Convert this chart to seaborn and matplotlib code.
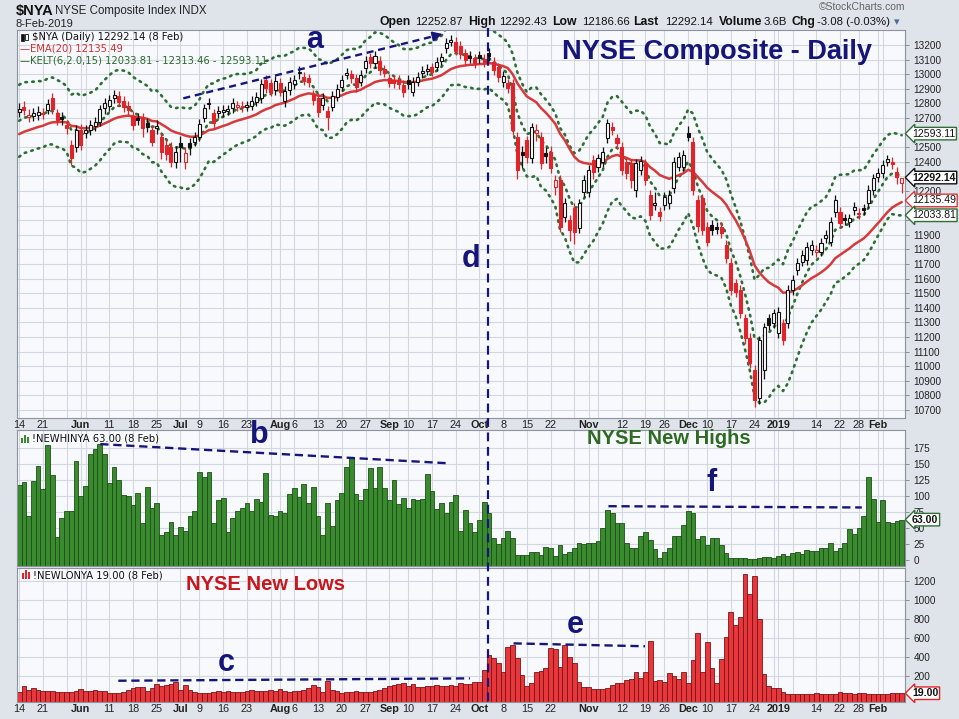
import numpy as np
import pandas as pd
import matplotlib
matplotlib.use("Agg")
import matplotlib.pyplot as plt
from matplotlib.lines import Line2D
from matplotlib.patches import Rectangle
import seaborn as sns

# ---------------------------------------------------------------- data
HOLIDAYS = ["2018-05-28", "2018-07-04", "2018-09-03", "2018-11-22",
            "2018-12-05", "2018-12-25", "2019-01-01", "2019-01-21"]

OPEN = [12743, 12778, 12705, 12714, 12721, 12732, 12755, 12835, 12732, 12705,
        12652, 12515, 12504, 12618, 12595, 12618, 12645, 12675, 12766, 12782,
        12835, 12851, 12819, 12782, 12714, 12698, 12705, 12663, 12618, 12629,
        12572, 12515, 12504, 12401, 12527, 12401, 12527, 12538, 12572, 12698,
        12796, 12732, 12732, 12743, 12750, 12766, 12778, 12773, 12778, 12782,
        12812, 12835, 12960, 12937, 12892, 12942, 12819, 12892, 12933, 13006,
        12983, 12972, 12858, 12835, 12789, 12748, 12778, 12846, 12915, 12995,
        12999, 12972, 12949, 13040, 13116, 13074, 13093, 13033, 12972, 12960,
        12960, 12926, 12960, 12880, 12949, 13006, 13024, 13047, 13052, 13093,
        13177, 13223, 13223, 13193, 13143, 13125, 13109, 13129, 13106, 13143,
        13086, 13047, 12949, 12937, 12937, 12572, 12470, 12549, 12424, 12600,
        12572, 12463, 12470, 12230, 12275, 12024, 12001, 12081, 11944, 12195,
        12195, 12412, 12367, 12401, 12561, 12641, 12561, 12504, 12401, 12390,
        12207, 12344, 12390, 12173, 12104, 12058, 12104, 12116, 12218, 12367,
        12367, 12595, 12538, 12138, 12150, 11956, 11967, 11956, 11956, 11830,
        11705, 11568, 11522, 11328, 11191, 10974, 10780, 10974, 11328, 11294,
        11225, 11294, 11294, 11522, 11659, 11716, 11727, 11796, 11785, 11785,
        11876, 11853, 12058, 12058, 12013, 11990, 12070, 12043, 12081, 12116,
        12207, 12298, 12321, 12401, 12401, 12332, 12252.87]

HIGH = [12805, 12815, 12760, 12768, 12780, 12772, 12832, 12870, 12765, 12740,
        12688, 12550, 12650, 12660, 12655, 12688, 12710, 12790, 12835, 12860,
        12895, 12882, 12850, 12815, 12745, 12732, 12735, 12700, 12650, 12685,
        12605, 12550, 12535, 12510, 12580, 12500, 12560, 12605, 12690, 12795,
        12840, 12765, 12785, 12788, 12792, 12838, 12820, 12815, 12820, 12850,
        12878, 12965, 12992, 12970, 12988, 12975, 12920, 12980, 12995, 13055,
        13015, 13005, 12890, 12868, 12868, 12780, 12882, 12930, 12992, 13045,
        13030, 13005, 13028, 13125, 13148, 13160, 13125, 13065, 13005, 12992,
        12992, 12958, 12992, 12980, 13015, 13056, 13070, 13078, 13116, 13148,
        13248, 13268, 13255, 13225, 13175, 13158, 13140, 13162, 13138, 13180,
        13118, 13080, 13020, 12970, 12970, 12605, 12510, 12580, 12668, 12660,
        12605, 12500, 12505, 12310, 12308, 12150, 12035, 12115, 12148, 12310,
        12375, 12445, 12455, 12502, 12695, 12675, 12592, 12535, 12432, 12422,
        12422, 12440, 12422, 12205, 12190, 12088, 12192, 12205, 12432, 12467,
        12480, 12645, 12570, 12170, 12182, 11988, 12000, 11990, 11988, 11862,
        11738, 11600, 11555, 11360, 11225, 11010, 11210, 11295, 11360, 11395,
        11405, 11325, 11555, 11625, 11738, 11795, 11850, 11862, 11828, 11875,
        11930, 12022, 12170, 12090, 12045, 12045, 12125, 12085, 12112, 12238,
        12318, 12355, 12410, 12450, 12432, 12365, 12292.43]

LOW = [12705, 12720, 12670, 12680, 12688, 12690, 12725, 12730, 12650, 12652,
       12590, 12375, 12470, 12480, 12560, 12585, 12610, 12645, 12730, 12750,
       12805, 12780, 12740, 12720, 12620, 12650, 12570, 12605, 12505, 12590,
       12420, 12415, 12365, 12355, 12400, 12350, 12450, 12505, 12540, 12670,
       12765, 12630, 12700, 12710, 12718, 12735, 12748, 12742, 12745, 12752,
       12780, 12805, 12870, 12848, 12860, 12848, 12776, 12860, 12900, 12970,
       12925, 12915, 12790, 12710, 12755, 12615, 12745, 12815, 12885, 12965,
       12940, 12880, 12918, 13010, 13042, 13042, 12995, 12978, 12910, 12905,
       12898, 12845, 12900, 12848, 12918, 12975, 12992, 12985, 13020, 13062,
       13145, 13192, 13130, 13105, 13065, 13075, 13042, 13078, 13052, 13090,
       12995, 12950, 12915, 12870, 12585, 12280, 12360, 12395, 12390, 12540,
       12350, 12390, 12320, 12175, 11920, 11985, 11860, 11840, 11910, 12160,
       12160, 12280, 12330, 12365, 12530, 12585, 12490, 12310, 12280, 12220,
       12160, 12310, 12242, 12000, 12070, 11995, 12070, 12080, 12185, 12335,
       12335, 12540, 12175, 11920, 11900, 11820, 11900, 11905, 11875, 11705,
       11488, 11475, 11328, 11150, 10985, 10723, 10740, 10910, 11245, 11260,
       11190, 11145, 11260, 11490, 11625, 11685, 11695, 11765, 11750, 11752,
       11842, 11820, 12025, 11945, 11965, 11955, 12038, 12010, 12038, 12085,
       12175, 12265, 12288, 12370, 12352, 12245, 12186.66]

CLOSE = [12759, 12755, 12721, 12732, 12743, 12727, 12796, 12759, 12686, 12691,
         12629, 12424, 12618, 12515, 12618, 12652, 12675, 12759, 12800, 12823,
         12858, 12812, 12773, 12755, 12652, 12686, 12629, 12641, 12538, 12648,
         12470, 12453, 12401, 12470, 12504, 12463, 12499, 12572, 12659, 12766,
         12805, 12663, 12750, 12755, 12759, 12805, 12789, 12782, 12787, 12819,
         12846, 12933, 12903, 12880, 12956, 12880, 12887, 12949, 12960, 13017,
         12956, 12949, 12823, 12743, 12835, 12709, 12851, 12896, 12960, 13011,
         12972, 12915, 12995, 13093, 13074, 13125, 13029, 13011, 12942, 12937,
         12931, 12880, 12933, 12949, 12983, 13024, 13038, 13017, 13084, 13116,
         13216, 13234, 13161, 13138, 13097, 13109, 13074, 13111, 13086, 13125,
         13029, 12983, 12988, 12903, 12618, 12344, 12447, 12431, 12636, 12618,
         12390, 12440, 12355, 12275, 11956, 12116, 11933, 11922, 12116, 12275,
         12344, 12332, 12424, 12470, 12663, 12618, 12527, 12344, 12326, 12275,
         12390, 12408, 12275, 12036, 12116, 12029, 12161, 12173, 12401, 12435,
         12447, 12572, 12207, 11960, 11933, 11853, 11933, 11940, 11910, 11739,
         11522, 11511, 11362, 11191, 11020, 10769, 11180, 11265, 11280, 11362,
         11374, 11180, 11522, 11590, 11705, 11762, 11819, 11830, 11796, 11842,
         11899, 11990, 12138, 11979, 12001, 12013, 12093, 12052, 12070, 12207,
         12287, 12321, 12378, 12417, 12385, 12295.22, 12292.14]

NEW_HIGHS = [117, 122, 69, 124, 147, 111, 180, 133, 36, 66,
             76, 76, 155, 100, 116, 166, 173, 181, 166, 120,
             145, 125, 101, 100, 86, 105, 58, 114, 81, 89,
             39, 44, 60, 39, 52, 46, 69, 77, 137, 130,
             138, 58, 94, 97, 44, 66, 77, 81, 89, 76,
             95, 91, 136, 70, 68, 76, 73, 103, 112, 99,
             119, 89, 114, 69, 39, 89, 53, 94, 105, 145,
             161, 103, 93, 111, 144, 112, 145, 112, 94, 125,
             88, 97, 81, 95, 94, 95, 134, 107, 79, 89,
             74, 90, 101, 46, 78, 58, 44, 62, 91,
             73, 35, 25, 34, 45, 34, 8, 8, 8, 13,
             13, 8, 20, 18, 6, 23, 10, 12, 18, 26,
             25, 26, 26, 29, 50, 78, 73, 58, 58, 26,
             19, 18, 38, 44, 31, 17, 3, 13, 18, 38,
             37, 55, 76, 73, 32, 38, 23, 35, 34, 23,
             11, 3, 3, 3, 3, 2, 2, 3, 4, 4,
             3, 6, 10, 6, 11, 13, 10, 15, 14, 14,
             18, 19, 27, 14, 18, 27, 48, 41, 50, 69,
             130, 96, 60, 93, 60, 58, 61, 63]

NEW_LOWS = [28, 94, 52, 70, 52, 45, 45, 42, 35, 35,
            35, 35, 42, 59, 45, 45, 52, 45, 45, 17,
            24, 24, 35, 52, 70, 80, 87, 45, 70, 115,
            94, 105, 115, 140, 52, 105, 52, 35, 24, 17,
            24, 35, 42, 35, 42, 35, 35, 35, 42, 52,
            45, 45, 42, 52, 42, 59, 42, 35, 42, 42,
            52, 70, 105, 87, 35, 150, 52, 45, 24, 35,
            35, 42, 35, 28, 35, 45, 52, 70, 94, 105,
            115, 129, 94, 115, 87, 87, 94, 94, 105, 94,
            94, 105, 94, 129, 115, 115, 140,
            140, 262, 420, 385, 332, 245, 500, 524, 385, 210,
            94, 122, 245, 255, 280, 490, 479, 297, 524, 395,
            332, 140, 87, 87, 59, 59, 59, 70, 105, 122,
            129, 157, 164, 245, 175, 245, 570, 150, 157, 140,
            227, 199, 164, 245, 129, 367, 647, 245, 559, 280,
            129, 374, 605, 874, 734, 815, 1269, 1059, 1248, 794,
            220, 94, 70, 70, 35, 10, 10, 10, 10, 10,
            10, 24, 10, 10, 10, 10, 31, 24, 17, 10,
            17, 17, 10, 10, 10, 10, 10, 24, 24, 19]

TICK_DATES = ["2018-05-14", "2018-05-21", "2018-06-01", "2018-06-11", "2018-06-18",
              "2018-06-25", "2018-07-02", "2018-07-09", "2018-07-16", "2018-07-23",
              "2018-08-01", "2018-08-06", "2018-08-13", "2018-08-20", "2018-08-27",
              "2018-09-04", "2018-09-10", "2018-09-17", "2018-09-24", "2018-10-01",
              "2018-10-08", "2018-10-15", "2018-10-22", "2018-11-01", "2018-11-12",
              "2018-11-19", "2018-11-26", "2018-12-03", "2018-12-10", "2018-12-17",
              "2018-12-24", "2019-01-02", "2019-01-14", "2019-01-22", "2019-01-28",
              "2019-02-01"]
TICK_LABELS = ["14", "21", "Jun", "11", "18", "25", "Jul", "9", "16", "23",
               "Aug", "6", "13", "20", "27", "Sep", "10", "17", "24", "Oct",
               "8", "15", "22", "Nov", "12", "19", "26", "Dec", "10", "17",
               "24", "2019", "14", "22", "28", "Feb"]
BOLD_LABELS = ["Jun", "Jul", "Aug", "Sep", "Oct", "Nov", "Dec", "2019", "Feb"]

PRICE_TICKS = list(range(10700, 13201, 100))
PRICE_HIDDEN = [12600, 12300, 12100, 12000]      # labels covered by value tags
HIGHS_TICKS = list(range(0, 176, 25))
HIGHS_HIDDEN = []
LOWS_TICKS = list(range(200, 1201, 200))

EMA_PERIOD, EMA_SEED = 20, 12572.0
KELT_PERIOD, KELT_MULT, ATR_PERIOD = 6, 2.0, 15
KELT_SEED, ATR_SEED = 12650.0, 125.0

TAG_UPPER, TAG_LAST, TAG_EMA, TAG_LOWER = 12593.11, 12292.14, 12135.49, 12033.81
TAG_HIGHS, TAG_LOWS = 63.00, 19.00

# annotation guide lines (index, value)
LINE_A = [(34.6, 12835), (89.8, 13280)]
LINE_B = [(17.1, 181), (90.5, 151)]
LINE_C = [(20.9, 150), (95.0, 175)]
LINE_E = [(104.2, 542), (131.9, 512)]
LINE_F = [(124.2, 84), (177.6, 82)]
LINE_D_X = 98.8

# ---------------------------------------------------------------- style
sns.set_theme(style="white")
plt.rcParams["font.family"] = ["Liberation Sans", "DejaVu Sans"]

BG = "#dfe3ea"
PANEL = "#f8f9fc"
GRID = "#d3d8e0"
NAVY = "#16167a"
RED = "#e0242a"
GREEN_BAR = "#3a8a2f"
W, H = 959, 719


def fx(px):
    return px / W


def fy(py):
    return 1 - py / H


dates = pd.bdate_range("2018-05-14", "2019-02-08")
dates = dates[~dates.isin(pd.to_datetime(HOLIDAYS))]
n = len(dates)
idx = np.arange(n)
o, h, l, c = (np.asarray(a, float) for a in (OPEN, HIGH, LOW, CLOSE))


def ema(vals, period, seed):
    k = 2.0 / (period + 1)
    out = np.empty(len(vals))
    p = seed
    for i, v in enumerate(vals):
        p = p + k * (v - p)
        out[i] = p
    return out


ema20 = ema(c, EMA_PERIOD, EMA_SEED)
mid = ema(c, KELT_PERIOD, KELT_SEED)
prev_c = np.r_[c[0], c[:-1]]
tr = np.maximum.reduce([h - l, np.abs(h - prev_c), np.abs(l - prev_c)])
atr = np.empty(n)
a = ATR_SEED
for i in range(n):
    a = (a * (ATR_PERIOD - 1) + tr[i]) / ATR_PERIOD
    atr[i] = a
upper = mid + KELT_MULT * atr
lower = mid - KELT_MULT * atr

tick_pos = [dates.get_loc(pd.Timestamp(d)) for d in TICK_DATES]
grid_pos = sorted(set([i for i in range(n) if i == 0 or dates[i].weekday() < dates[i - 1].weekday()]
                      + tick_pos))

XLIM = (-0.45, 186.7)
PRICE_LIM = (10645, 13303)
HIGHS_LIM = (-9.4, 203)
LOWS_LIM = (-73, 1333)

fig = plt.figure(figsize=(9.59, 7.19), dpi=100, facecolor=BG)
ax1 = fig.add_axes([fx(17), fy(418), (905 - 17) / W, (418 - 30) / H])
ax2 = fig.add_axes([fx(17), fy(566), (905 - 17) / W, (566 - 430) / H])
ax3 = fig.add_axes([fx(17), fy(702), (905 - 17) / W, (702 - 568) / H])


def style(ax, ticks, ylim, hidden=(), labels=None):
    ax.set_facecolor(PANEL)
    ax.set_xlim(*XLIM)
    ax.set_ylim(*ylim)
    ax.yaxis.tick_right()
    ax.set_yticks(ticks)
    ax.set_yticklabels(["" if t in hidden else str(t) for t in ticks])
    ax.tick_params(axis="y", labelsize=7.2, length=3, width=0.6, color="#7a808a",
                   pad=3, labelcolor="#222222")
    ax.tick_params(axis="x", length=0, labelsize=7.8, pad=1.5, labelcolor="#222222")
    ax.grid(axis="y", color=GRID, lw=0.8)
    for x in grid_pos:
        ax.axvline(x, color=GRID, lw=0.8, zorder=0.5)
    ax.set_axisbelow(True)
    for s in ax.spines.values():
        s.set_color("#8d939c")
        s.set_linewidth(0.8)
    ax.set_xlabel("")
    ax.set_ylabel("")
    if labels:
        ax.set_xticks(tick_pos)
        ax.set_xticklabels(TICK_LABELS)
        for t in ax.get_xticklabels():
            if t.get_text() in BOLD_LABELS:
                t.set_fontweight("bold")
    else:
        ax.set_xticks([])


# ---------------------------------------------------------------- price panel
kel_kw = dict(color="#2f6e35", lw=1.9, linestyle=(0, (0.6, 2.0)), dash_capstyle="round")
sns.lineplot(x=idx, y=upper, ax=ax1, zorder=2, **kel_kw)
sns.lineplot(x=idx, y=mid, ax=ax1, zorder=2, **kel_kw)
sns.lineplot(x=idx, y=lower, ax=ax1, zorder=2, **kel_kw)
sns.lineplot(x=idx, y=ema20, ax=ax1, color="#d63a3c", lw=1.8, zorder=2.5)

up = c >= prev_c
up[0] = True
col = np.where(up, "#111111", RED)
hollow = c >= o
small = np.abs(c - o) < 7
body_h = np.where(small, 7, np.abs(c - o))
body_lo = np.where(small, (o + c) / 2 - 3.5, np.minimum(o, c))
face = np.where(hollow, "white", col)
ax1.vlines(idx, l, h, colors=col, lw=0.9, zorder=3)
ax1.bar(idx, body_h, bottom=body_lo, width=0.64, color=face, edgecolor=col,
        linewidth=0.8, zorder=4)
style(ax1, PRICE_TICKS, PRICE_LIM, hidden=PRICE_HIDDEN, labels=True)

# guide line a with arrow
(xa0, ya0), (xa1, ya1) = LINE_A
ax1.plot([xa0, xa1 - 1.5], [ya0, ya1 - 12], color=NAVY, lw=1.7, linestyle=(0, (3, 2)), zorder=6)
ax1.annotate("", xy=(xa1, ya1), xytext=(xa1 - 3.0, ya1 - 24),
             arrowprops=dict(arrowstyle="-|>", color=NAVY, lw=1.5, mutation_scale=14),
             zorder=6, annotation_clip=False)

# ---------------------------------------------------------------- new highs
df_h = pd.DataFrame({"i": idx, "v": NEW_HIGHS})
sns.barplot(data=df_h, x="i", y="v", native_scale=True, color=GREEN_BAR,
            edgecolor="#1c4f17", linewidth=0.6, width=1.0, saturation=1,
            errorbar=None, ax=ax2)
for p in ax2.patches:
    top = p.get_y() + p.get_height()
    p.set_y(HIGHS_LIM[0])
    p.set_height(top - HIGHS_LIM[0])
style(ax2, HIGHS_TICKS, HIGHS_LIM, hidden=HIGHS_HIDDEN)
for pts in (LINE_B, LINE_F):
    ax2.plot([pts[0][0], pts[1][0]], [pts[0][1], pts[1][1]], color=NAVY, lw=1.7,
             linestyle=(0, (3.5, 2)), zorder=6)

# ---------------------------------------------------------------- new lows
df_l = pd.DataFrame({"i": idx, "v": NEW_LOWS})
sns.barplot(data=df_l, x="i", y="v", native_scale=True, color="#e8373c",
            edgecolor="#7a1414", linewidth=0.6, width=1.0, saturation=1,
            errorbar=None, ax=ax3)
for p in ax3.patches:
    top = p.get_y() + p.get_height()
    p.set_y(LOWS_LIM[0])
    p.set_height(top - LOWS_LIM[0])
style(ax3, LOWS_TICKS, LOWS_LIM, labels=True)
for pts in (LINE_C, LINE_E):
    ax3.plot([pts[0][0], pts[1][0]], [pts[0][1], pts[1][1]], color=NAVY, lw=1.7,
             linestyle=(0, (3.5, 2)), zorder=6)


# ---------------------------------------------------------------- value tags
def tag(ax, val, text, ec, bold=False):
    ax.annotate(text, xy=(1.0, val), xycoords=("axes fraction", "data"),
                xytext=(5, 0), textcoords="offset points", ha="left", va="center",
                fontsize=7.6, fontweight="bold" if bold else "normal", color="#111111",
                bbox=dict(boxstyle="larrow,pad=0.12", fc="white", ec=ec, lw=1.0),
                annotation_clip=False, zorder=10)


tag(ax1, TAG_UPPER, f"{TAG_UPPER:.2f}", "#2f6e35")
tag(ax1, TAG_LAST, f"{TAG_LAST:.2f}", "#111111", bold=True)
tag(ax1, TAG_EMA, f"{TAG_EMA:.2f}", "#d63a3c")
tag(ax1, TAG_LOWER, f"{TAG_LOWER:.2f}", "#2f6e35")
tag(ax2, TAG_HIGHS, f"{TAG_HIGHS:.2f}", "#2f6e35", bold=True)
tag(ax3, TAG_LOWS, f"{TAG_LOWS:.2f}", RED, bold=True)

# ---------------------------------------------------------------- vertical line d
xf = fx(17) + (LINE_D_X - XLIM[0]) / (XLIM[1] - XLIM[0]) * (905 - 17) / W
fig.add_artist(Line2D([xf, xf], [fy(28), fy(702)], color=NAVY, lw=1.6,
                      linestyle=(0, (4, 2.5)), zorder=20))

# ---------------------------------------------------------------- header texts
fig.text(fx(16), fy(11), r"\$NYA", fontsize=10.5, fontweight="bold", va="center", color="#111")
fig.text(fx(55), fy(11), "NYSE Composite Index", fontsize=8.3, va="center", color="#222")
fig.text(fx(179), fy(11), "INDX", fontsize=8.3, va="center", color="#222")
fig.text(fx(16), fy(24), "8-Feb-2019", fontsize=8, va="center", color="#222")
fig.text(fx(905), fy(7), "\u00a9StockCharts.com", fontsize=7.5, va="center", ha="right", color="#666")

hdr = [(380, "Open", True), (415, "12252.87", False), (468, "High", True),
       (499, "12292.43", False), (552, "Low", True), (582, "12186.66", False),
       (633, "Last", True), (665, "12292.14", False), (719, "Volume", True),
       (764, "3.6B", False), (791, "Chg", True), (817, "-3.08 (-0.03%)", False)]
for x, s, b in hdr:
    fig.text(fx(x), fy(22), s, fontsize=8.8 if b else 8.2, fontweight="bold" if b else "normal",
             va="center", color="#111")
fig.text(fx(894), fy(22), "\u25be", fontsize=8, va="center", color="#4f6b9e",
         family=["DejaVu Sans"])

# legends
LEG = ["DejaVu Sans"]
fig.text(fx(32), fy(37), r"\$NYA (Daily) 12292.14 (8 Feb)", fontsize=7.2, va="center",
         color="#111", family=LEG)
fig.add_artist(Rectangle((fx(21), fy(41)), 2.5 / W, 7 / H, transform=fig.transFigure,
                         fc="#111", ec="#111", lw=0.5))
fig.add_artist(Rectangle((fx(25), fy(40)), 2.5 / W, 6 / H, transform=fig.transFigure,
                         fc="white", ec="#111", lw=0.6))
fig.text(fx(20), fy(48.7), "\u2014EMA(20) 12135.49", fontsize=7.2, va="center",
         color="#d2322f", family=LEG)
fig.text(fx(20), fy(60.3), "\u2014KELT(6,2.0,15) 12033.81 - 12313.46 - 12593.11", fontsize=7.2,
         va="center", color="#2b6a2b", family=LEG)
fig.text(fx(32), fy(439), "!NEWHINYA 63.00 (8 Feb)", fontsize=7.2, va="center",
         color="#111", family=LEG)
fig.text(fx(33), fy(575), "!NEWLONYA 19.00 (8 Feb)", fontsize=7.2, va="center",
         color="#111", family=LEG)
for k, hh in enumerate([5, 8, 6]):
    fig.add_artist(Rectangle((fx(21 + 3 * k), fy(443)), 2.2 / W, hh / H,
                             transform=fig.transFigure, fc=GREEN_BAR, ec="none"))
    fig.add_artist(Rectangle((fx(22 + 3 * k), fy(579)), 2.2 / W, (hh + 1) / H,
                             transform=fig.transFigure, fc=RED, ec="none"))

# titles
fig.text(fx(717), fy(52), "NYSE Composite - Daily", fontsize=19.5, fontweight="bold",
         ha="center", va="center", color=NAVY)
fig.text(fx(669), fy(439), "NYSE New Highs", fontsize=14.5, fontweight="bold",
         ha="center", va="center", color="#2d6b22")
fig.text(fx(265), fy(585), "NYSE New Lows", fontsize=14.5, fontweight="bold",
         ha="center", va="center", color="#c8161d")

# letters
for s, x, y in [("a", 315, 40), ("b", 259, 435), ("c", 226, 663), ("d", 471, 259),
                ("e", 575, 625), ("f", 712, 483)]:
    fig.text(fx(x), fy(y), s, fontsize=22, fontweight="bold", ha="center", va="center",
             color=NAVY, zorder=30)

fig.savefig("out.png", dpi=100, facecolor=BG)
